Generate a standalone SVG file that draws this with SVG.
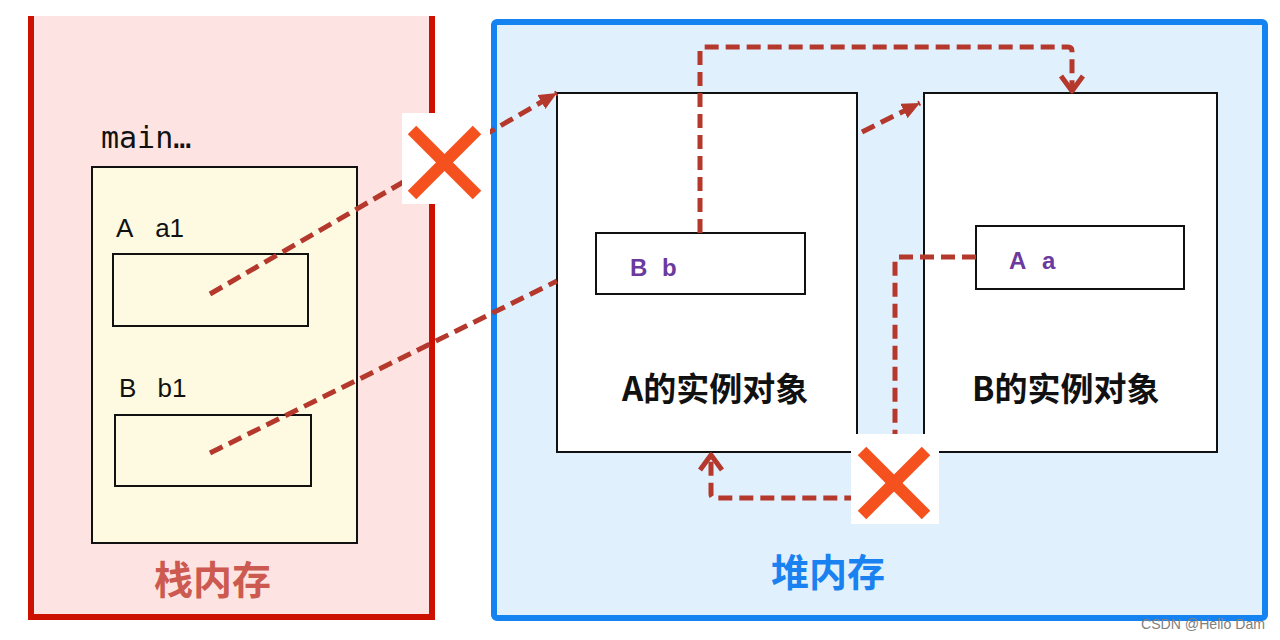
<svg xmlns="http://www.w3.org/2000/svg" width="1280" height="640" viewBox="0 0 1280 640">
<style>
.box{fill:#ffffff;stroke:#111111;stroke-width:2}
.ybox{fill:#fef9e1;stroke:#111111;stroke-width:2}
.conn{fill:none;stroke:#b5382c;stroke-width:5;stroke-dasharray:14 7}
.mono{font-family:"DejaVu Sans Mono","Liberation Mono",monospace;fill:#111111}
.lbl{font-family:"Liberation Sans","Noto Sans",sans-serif;fill:#111111;font-size:26px}
.fld{font-family:"Liberation Sans","Noto Sans",sans-serif;fill:#6a3a9e;font-size:24px;font-weight:bold}
.cjk{font-family:"Noto Sans CJK SC","Noto Sans",sans-serif;font-weight:bold}
.xm{stroke:#f4511e;stroke-width:12;stroke-linecap:butt}
</style>
<defs>
<marker id="fa" markerUnits="userSpaceOnUse" markerWidth="24" markerHeight="24" refX="18" refY="8" orient="auto">
<path d="M0,0 L18,8 L0,16 z" fill="#b5382c" stroke="none"/>
</marker>
<marker id="oa" markerUnits="userSpaceOnUse" markerWidth="30" markerHeight="30" refX="18" refY="13" orient="auto">
<path d="M3,2 L18,13 L3,24" fill="none" stroke="#b5382c" stroke-width="5" stroke-dasharray="none" stroke-linejoin="round"/>
</marker>
</defs>
<rect width="1280" height="640" fill="#ffffff"/>

<g id="stack">
<rect x="31" y="16" width="401" height="601" fill="#fde4e2"/>
<path d="M31,16 V617 H432 V16" fill="none" stroke="#cc1100" stroke-width="6"/>
<text class="cjk" x="154" y="594" font-size="39" fill="#cc5a50">栈内存</text>
</g>

<g id="heap">
<rect x="494" y="22" width="771" height="596" rx="3" fill="#e1f0fd" stroke="#1482f0" stroke-width="6"/>
<text class="cjk" x="771" y="586" font-size="38" fill="#1a82f0">堆内存</text>
</g>

<g id="main-frame">
<text class="mono" x="101" y="148" font-size="30">main…</text>
<rect class="ybox" x="92" y="167" width="265" height="376"/>
</g>

<g id="var-a1">
<text class="lbl" x="116" y="237" word-spacing="16">A a1</text>
<rect class="ybox" x="113" y="254" width="195" height="72"/>
</g>

<g id="var-b1">
<text class="lbl" x="119" y="397" word-spacing="14">B b1</text>
<rect class="ybox" x="115" y="415" width="196" height="71"/>
</g>

<g id="objA">
<rect class="box" x="557" y="93" width="300" height="359"/>
<text class="cjk" x="622" y="401" font-size="33" fill="#111111">A的实例对象</text>
</g>

<g id="fieldB">
<rect class="box" x="596" y="233" width="209" height="61"/>
<text class="fld" x="630" y="276" word-spacing="8">B b</text>
</g>

<g id="objB">
<rect class="box" x="924" y="93" width="293" height="359"/>
<text class="cjk" x="972" y="401" font-size="33" fill="#111111">B的实例对象</text>
</g>

<g id="fieldA">
<rect class="box" x="976" y="226" width="208" height="63"/>
<text class="fld" x="1009" y="269" word-spacing="10">A a</text>
</g>

<g id="connectors">
<path class="conn" d="M210,294 L557,93" marker-end="url(#fa)"/>
<path class="conn" d="M210,453 L557,281"/>
<path class="conn" d="M700,233 V51 Q700,47 704,47 H1068 Q1072,47 1072,51 V91" marker-end="url(#oa)"/>
<path class="conn" d="M862,132 L920,103" marker-end="url(#fa)"/>
<path class="conn" d="M976,257 H899 Q895,257 895,261 V498 H715 Q711,498 711,494 V455" marker-end="url(#oa)"/>
</g>

<g id="cross1">
<rect x="402" y="113" width="88" height="91" fill="#ffffff"/>
<line class="xm" x1="412" y1="130" x2="477" y2="195"/>
<line class="xm" x1="477" y1="130" x2="412" y2="195"/>
</g>

<g id="cross2">
<rect x="851" y="434" width="88" height="90" fill="#ffffff"/>
<line class="xm" x1="862" y1="451" x2="926" y2="515"/>
<line class="xm" x1="926" y1="451" x2="862" y2="515"/>
</g>

<text x="1141" y="629" font-family="Liberation Sans Narrow,Liberation Sans,sans-serif" font-size="15" fill="#808080" textLength="124" lengthAdjust="spacingAndGlyphs">CSDN @Hello Dam</text>
</svg>
